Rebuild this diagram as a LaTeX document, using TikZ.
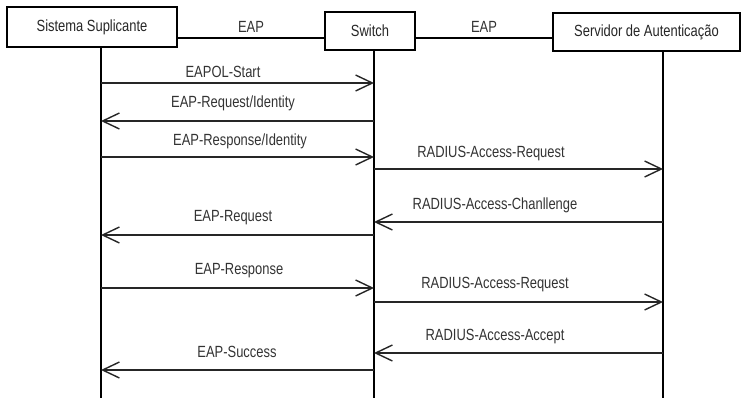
\documentclass[tikz,border=0pt]{standalone}
\usepackage{fontspec}
\setmainfont[FakeStretch=0.8]{Liberation Sans}
\usetikzlibrary{arrows.meta}

\begin{document}
\begin{tikzpicture}[x=0.025cm,y=-0.025cm,line width=1pt,>={Straight Barb[length=4.2mm,width=4mm,line width=1pt]},
    every node/.style={font=\fontsize{11.5}{13}\selectfont, text=black!80},
    entity/.style={draw, text=black!85, inner sep=0pt},
    msg/.style={->, black!85}]
  \useasboundingbox (0,0) rectangle (743,402);

  % entities
  \node (sup) [entity, minimum width=4.25cm, minimum height=1cm] at (92,27) {Sistema Suplicante};
  \node (sw)  [entity, minimum width=2.25cm, minimum height=0.95cm] at (370,31) {Switch};
  \node (srv) [entity, minimum width=4.675cm, minimum height=0.95cm] at (646.5,32) {Servidor de Autenticação};

  % links between the boxes
  \coordinate (link) at (0,38);
  \draw (sup.east |- link) -- (sw.west |- link) node[midway, above=0pt] {EAP};
  \draw (sw.east |- link) -- (srv.west |- link) node[midway, above=0pt] {EAP};

  % lifelines
  \coordinate (supL) at (101,398);
  \coordinate (swL)  at (374,398);
  \coordinate (srvL) at (663,398);
  \draw (supL |- sup.south) -- (supL);
  \draw (swL |- sw.south) -- (swL);
  \draw (srvL |- srv.south) -- (srvL);

  % message rows
  \coordinate (r1) at (0,83);
  \coordinate (r2) at (0,121);
  \coordinate (r3) at (0,157);
  \coordinate (r4) at (0,169);
  \coordinate (r5) at (0,222);
  \coordinate (r6) at (0,235);
  \coordinate (r7) at (0,288);
  \coordinate (r8) at (0,302);
  \coordinate (r9) at (0,353);
  \coordinate (r10) at (0,370);

  \node (m1)  at (223,72)  {EAPOL-Start};
  \node (m2)  at (233,103) {EAP-Request/Identity};
  \node (m3)  at (240,141) {EAP-Response/Identity};
  \node (m4)  at (491,154) {RADIUS-Access-Request};
  \node (m5)  at (495,205) {RADIUS-Access-Chanllenge};
  \node (m6)  at (233,218) {EAP-Request};
  \node (m7)  at (239,271) {EAP-Response};
  \node (m8)  at (495,285) {RADIUS-Access-Request};
  \node (m9)  at (495,337) {RADIUS-Access-Accept};
  \node (m10) at (237,352) {EAP-Success};

  \draw[msg] (supL |- r1) -- (swL |- r1);
  \draw[msg] (swL |- r2) -- (supL |- r2);
  \draw[msg] (supL |- r3) -- (swL |- r3);
  \draw[msg] (swL |- r4) -- (srvL |- r4);
  \draw[msg] (srvL |- r5) -- (swL |- r5);
  \draw[msg] (swL |- r6) -- (supL |- r6);
  \draw[msg] (supL |- r7) -- (swL |- r7);
  \draw[msg] (swL |- r8) -- (srvL |- r8);
  \draw[msg] (srvL |- r9) -- (swL |- r9);
  \draw[msg] (swL |- r10) -- (supL |- r10);
\end{tikzpicture}
\end{document}
